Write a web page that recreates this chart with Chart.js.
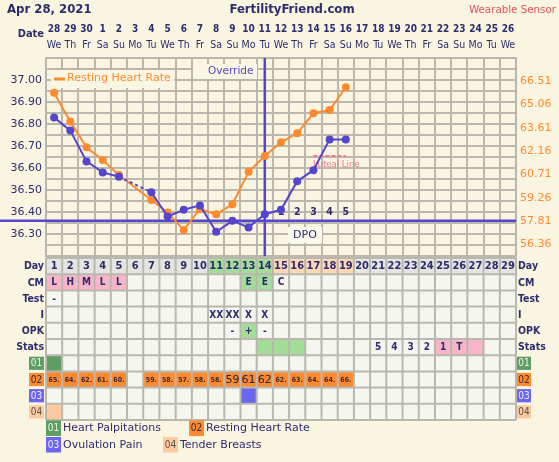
<!DOCTYPE html>
<html>
<head>
<meta charset="utf-8">
<script src="https://cdn.jsdelivr.net/npm/chart.js@4.4.1/dist/chart.umd.min.js"></script>
<style>
  html, body { margin: 0; padding: 0; background: #faf5e0; }
  canvas { display: block; }
</style>
</head>
<body>
<canvas id="ffChart" width="559" height="462"></canvas>
<script>
// ---- chart data ----
const days = ['1','2','3','4','5','6','7','8','9','10','11','12','13','14','15','16','17','18','19','20','21','22','23','24','25','26','27','28','29'];
const dates = ['28','29','30','1','2','3','4','5','6','7','8','9','10','11','12','13','14','15','16','17','18','19','20','21','22','23','24','25','26'];
const weekdays = ['We','Th','Fr','Sa','Su','Mo','Tu','We','Th','Fr','Sa','Su','Mo','Tu','We','Th','Fr','Sa','Su','Mo','Tu','We','Th','Fr','Sa','Su','Mo','Tu','We'];

const temps = [36.83, 36.77, 36.63, 36.58, 36.56, null, 36.49, 36.38, 36.41, 36.43, 36.31, 36.36, 36.33, 36.39, 36.41, 36.54, 36.59, 36.73, 36.73,
  null, null, null, null, null, null, null, null, null, null];
const restingHR = [65.80, 64.00, 62.40, 61.61, 60.68, null, 59.12, 58.35, 57.25, 58.56, 58.23, 58.85, 60.88, 61.86, 62.71, 63.27, 64.52, 64.72, 66.14,
  null, null, null, null, null, null, null, null, null, null];
const hrText = ['65.','64.','62.','61.','60.','','59.','58.','57.','58.','58.','59','61','62','62.','63.','64.','64.','66.'];
const luteal = [null, null, null, null, null, null, null, null, null, null, null, null, null, null, null, null, 36.655, 36.655, 36.655,
  null, null, null, null, null, null, null, null, null, null];

const coverline = 36.36;
const ovulationDay = 14;
const dpoLabels = ['1','2','3','4','5'];   // from day 15

const tempTickLabels = ['36.30','36.40','36.50','36.60','36.70','36.80','36.90','37.00'];
const hrTicks = [56.36, 57.81, 59.26, 60.71, 62.16, 63.61, 65.06, 66.51];

const cm = ['L','H','M','L','L','','','','','','','','E','E','C'];
const test = ['-'];
const intercourse = ['','','','','','','','','','','XX','XX','X','X'];
const opk = ['','','','','','','','','','','','-','+','-'];
const stats = ['','','','','','','','','','','','','','','','','','','','','5','4','3','2','1','T',''];
const statsFill = ['','','','','','','','','','','','','','g','g','g','','','','','','','','','p','p','p'];
const palpitations = [1];
const ovulationPain = [0,0,0,0,0,0,0,0,0,0,0,0,1];
const tenderBreasts = [1];

// ---- style ----
const navy = '#2d2d6e';
const blue = '#5544cc';
const orange = '#ff8a2e';
const gridCol = '#bab8ae';
const bg = '#faf5e0';
const cellCol = '#f6f6f0';
const green = '#a4dc99';
const peach = '#ffd6b6';
const pink = '#f8b4c8';
const cond = '"DejaVu Sans Condensed", "DejaVu Sans", sans-serif';
const sans = '"DejaVu Sans", Verdana, sans-serif';

const tempGrid = [];
for (let i = 0; i <= 18; i++) tempGrid.push(+(36.2 + i * 0.05).toFixed(2));

function box(c, x, y, w, h, fill, label, textCol) {
  c.fillStyle = fill;
  c.fillRect(x, y, w, h);
  c.fillStyle = textCol;
  c.font = '10px ' + cond;
  c.textAlign = 'center';
  c.textBaseline = 'middle';
  c.fillText(label, x + w / 2, y + h / 2 + 0.5);
}

const symBoxes = [
  ['01', '#5f9e62', '#e8f4e8'],
  ['02', '#ff8a30', '#3a2a30'],
  ['03', '#6a66f0', '#eeeeff'],
  ['04', '#ffc9a0', '#555555']
];

const ffPlugin = {
  id: 'ffPlugin',
  beforeDraw(chart) {
    const c = chart.ctx;
    c.save();
    c.fillStyle = bg;
    c.fillRect(0, 0, chart.width, chart.height);
    c.restore();
  },
  beforeDatasetsDraw(chart) {
    const c = chart.ctx, x = chart.scales.x, y = chart.scales.y, a = chart.chartArea;
    c.save();
    // legend box inside plot
    c.fillStyle = '#faf6e4';
    c.fillRect(51, 70, 123, 18);
    c.strokeStyle = orange; c.lineWidth = 3;
    c.beginPath(); c.moveTo(54, 79); c.lineTo(65, 79); c.stroke();
    c.fillStyle = orange; c.font = '11px ' + sans;
    c.textAlign = 'left'; c.textBaseline = 'middle';
    c.fillText('Resting Heart Rate', 67, 78);
    // override label
    c.fillStyle = '#faf6e4';
    c.fillRect(193, 64, 64, 15);
    c.fillStyle = blue; c.font = '10.5px ' + sans;
    c.fillText('Override', 208, 71.5);
    // DPO box
    c.fillStyle = '#fbf8ec';
    c.fillRect(288, 227, 34, 16);
    c.fillStyle = navy; c.font = '11px ' + sans; c.textAlign = 'center';
    c.fillText('DPO', 305, 235);
    // coverline
    c.strokeStyle = blue; c.lineWidth = 2.5;
    const cy = y.getPixelForValue(coverline);
    c.beginPath(); c.moveTo(0, cy); c.lineTo(a.right, cy); c.stroke();
    // ovulation line
    const ox = x.getPixelForValue(ovulationDay - 1);
    c.beginPath(); c.moveTo(ox, a.top); c.lineTo(ox, a.bottom); c.stroke();
    // dpo numbers
    c.fillStyle = navy; c.font = 'bold 10.5px ' + cond;
    dpoLabels.forEach((t, i) => c.fillText(t, x.getPixelForValue(ovulationDay + i), cy - 9));
    // luteal text
    c.fillStyle = '#f27a90'; c.font = '9.5px ' + cond; c.textAlign = 'left';
    c.fillText('Luteal Line', x.getPixelForValue(16) - 0.5, y.getPixelForValue(luteal[16]) + 9);
    c.restore();
  },
  afterDraw(chart) {
    const c = chart.ctx, xs = chart.scales.x;
    c.save();
    // header
    c.textBaseline = 'middle';
    c.fillStyle = navy; c.font = 'bold 13px ' + cond; c.textAlign = 'left';
    c.fillText('Apr 28, 2021', 7, 10);
    c.textAlign = 'center';
    c.fillText('FertilityFriend.com', 292, 10);
    c.fillStyle = '#e0505a'; c.font = '10.3px ' + sans; c.textAlign = 'right';
    c.fillText('Wearable Sensor', 556, 10);
    c.fillStyle = navy; c.font = 'bold 11px ' + cond;
    c.fillText('Date', 44, 34);

    // table
    const n = days.length, w = (xs.right - xs.left) / n, top = 258, rh = 16.2;
    const L = i => xs.left + i * w;
    const rowNames = ['Day', 'CM', 'Test', 'I', 'OPK', 'Stats'];
    for (let r = 0; r < 10; r++) {
      for (let i = 0; i < n; i++) {
        let f = cellCol;
        if (r === 0) f = (i >= 10 && i <= 13) ? green : (i >= 14 && i <= 18) ? peach : '#e4e4e1';
        if (r === 1 && cm[i]) f = cm[i] === 'E' ? green : cm[i] === 'C' ? cellCol : pink;
        if (r === 4 && opk[i] === '+') f = green;
        if (r === 5 && statsFill[i]) f = statsFill[i] === 'g' ? green : pink;
        if (r === 6 && palpitations[i]) f = '#5f9e62';
        if (r === 7 && restingHR[i] != null) f = '#ff8a30';
        if (r === 8 && ovulationPain[i]) f = '#6a66f0';
        if (r === 9 && tenderBreasts[i]) f = '#ffc9a0';
        c.fillStyle = f;
        c.fillRect(L(i), top + r * rh, w, rh);
      }
    }
    c.strokeStyle = gridCol; c.lineWidth = 2;
    c.beginPath();
    for (let i = 0; i <= n; i++) { c.moveTo(L(i), top); c.lineTo(L(i), top + 10 * rh); }
    for (let r = 0; r <= 10; r++) { c.moveTo(xs.left, top + r * rh); c.lineTo(xs.right, top + r * rh); }
    c.stroke();

    c.textAlign = 'center'; c.textBaseline = 'middle';
    const cx = i => L(i) + w / 2, cyr = r => top + r * rh + rh / 2 + 0.5;
    for (let i = 0; i < n; i++) {
      c.fillStyle = navy;
      c.font = 'bold 11px ' + cond;
      c.fillText(days[i], cx(i), cyr(0));
      c.font = 'bold 10px ' + cond;
      if (cm[i]) c.fillText(cm[i], cx(i), cyr(1));
      if (test[i]) c.fillText(test[i], cx(i), cyr(2));
      if (intercourse[i]) c.fillText(intercourse[i], cx(i), cyr(3));
      if (opk[i]) c.fillText(opk[i], cx(i), cyr(4));
      if (stats[i]) c.fillText(stats[i], cx(i), cyr(5));
      if (hrText[i]) {
        const small = hrText[i].endsWith('.');
        c.fillStyle = small ? '#3a2a30' : '#222244';
        c.font = small ? 'bold 7px ' + cond : '11px ' + sans;
        c.fillText(hrText[i], cx(i), cyr(7));
      }
    }
    // row labels
    c.fillStyle = navy; c.font = 'bold 10.5px ' + cond;
    rowNames.forEach((t, r) => {
      c.textAlign = 'right'; c.fillText(t, 44, cyr(r));
      c.textAlign = 'left'; c.fillText(t, xs.right + 2, cyr(r));
    });
    symBoxes.forEach((s, k) => {
      const yy = top + (6 + k) * rh + 1.5;
      box(c, 29, yy, 15, rh - 3, s[1], s[0], s[2]);
      box(c, xs.right + 1, yy, 14, rh - 3, s[1], s[0], s[2]);
    });

    // symptom legend
    const legend = [
      [0, 46, 420.5, 'Heart Palpitations'],
      [1, 189, 420.5, 'Resting Heart Rate'],
      [2, 46, 437, 'Ovulation Pain'],
      [3, 163, 437, 'Tender Breasts']
    ];
    legend.forEach(([k, lx, ly, t]) => {
      const s = symBoxes[k];
      box(c, lx, ly, 15, 15.5, s[1], s[0], s[2]);
      c.fillStyle = navy; c.font = '11px ' + sans; c.textAlign = 'left';
      c.fillText(t, lx + 17, ly + 8);
    });
    c.restore();
  }
};

const skipped = (ctx, value) => (ctx.p0.skip || ctx.p1.skip) ? value : undefined;

new Chart(document.getElementById('ffChart').getContext('2d'), {
  type: 'line',
  data: {
    labels: days,
    datasets: [
      {
        label: 'Temperature',
        data: temps,
        yAxisID: 'y',
        borderColor: blue,
        backgroundColor: blue,
        borderWidth: 2,
        pointRadius: 4,
        pointBorderWidth: 0,
        spanGaps: true,
        segment: { borderDash: ctx => skipped(ctx, [3, 3]) }
      },
      {
        label: 'Resting Heart Rate',
        data: restingHR,
        yAxisID: 'y1',
        borderColor: orange,
        backgroundColor: orange,
        borderWidth: 2,
        pointRadius: 4,
        pointBorderWidth: 0,
        spanGaps: true
      },
      {
        label: 'Luteal Line',
        data: luteal,
        yAxisID: 'y',
        borderColor: '#f27a90',
        borderWidth: 2,
        borderDash: [4, 2],
        pointRadius: 0
      }
    ]
  },
  options: {
    responsive: false,
    animation: false,
    layout: { padding: { top: 20, bottom: 206, left: 0, right: 0 } },
    plugins: { legend: { display: false }, tooltip: { enabled: false } },
    scales: {
      x: {
        position: 'top',
        offset: true,
        grid: { color: gridCol, lineWidth: 2, drawTicks: false, offset: true },
        border: { color: gridCol, width: 2 },
        ticks: {
          color: navy, font: { family: cond, size: 10.5 }, padding: 6,
          autoSkip: false, maxRotation: 0,
          callback: (v, i) => weekdays[i]
        },
        afterFit(s) { s.height = 20; }
      },
      x2: {
        type: 'category',
        labels: dates,
        position: 'top',
        offset: true,
        grid: { display: false, drawTicks: false },
        border: { display: false },
        ticks: { color: navy, font: { family: cond, size: 10, weight: 'bold' }, padding: 3, autoSkip: false, maxRotation: 0 },
        afterFit(s) { s.height = 18; }
      },
      y: {
        position: 'left',
        min: 36.2,
        max: 37.1,
        afterBuildTicks(s) { s.ticks = tempGrid.map(v => ({ value: v })); },
        grid: { color: gridCol, lineWidth: 2, drawTicks: false },
        border: { color: gridCol, width: 2 },
        ticks: {
          autoSkip: false, padding: 4, color: navy, font: { family: sans, size: 11 },
          callback: v => tempTickLabels.includes(v.toFixed(2)) ? v.toFixed(2) : ''
        },
        afterFit(s) { s.width = 46; }
      },
      y1: {
        position: 'right',
        min: 55.635,
        max: 67.96,
        afterBuildTicks(s) { s.ticks = hrTicks.map(v => ({ value: v })); },
        grid: { drawOnChartArea: false, drawTicks: false },
        border: { color: gridCol, width: 2 },
        ticks: { autoSkip: false, padding: 4, color: orange, font: { family: sans, size: 11 }, callback: v => v.toFixed(2) },
        afterFit(s) { s.width = 43; }
      }
    }
  },
  plugins: [ffPlugin]
});
</script>
</body>
</html>
